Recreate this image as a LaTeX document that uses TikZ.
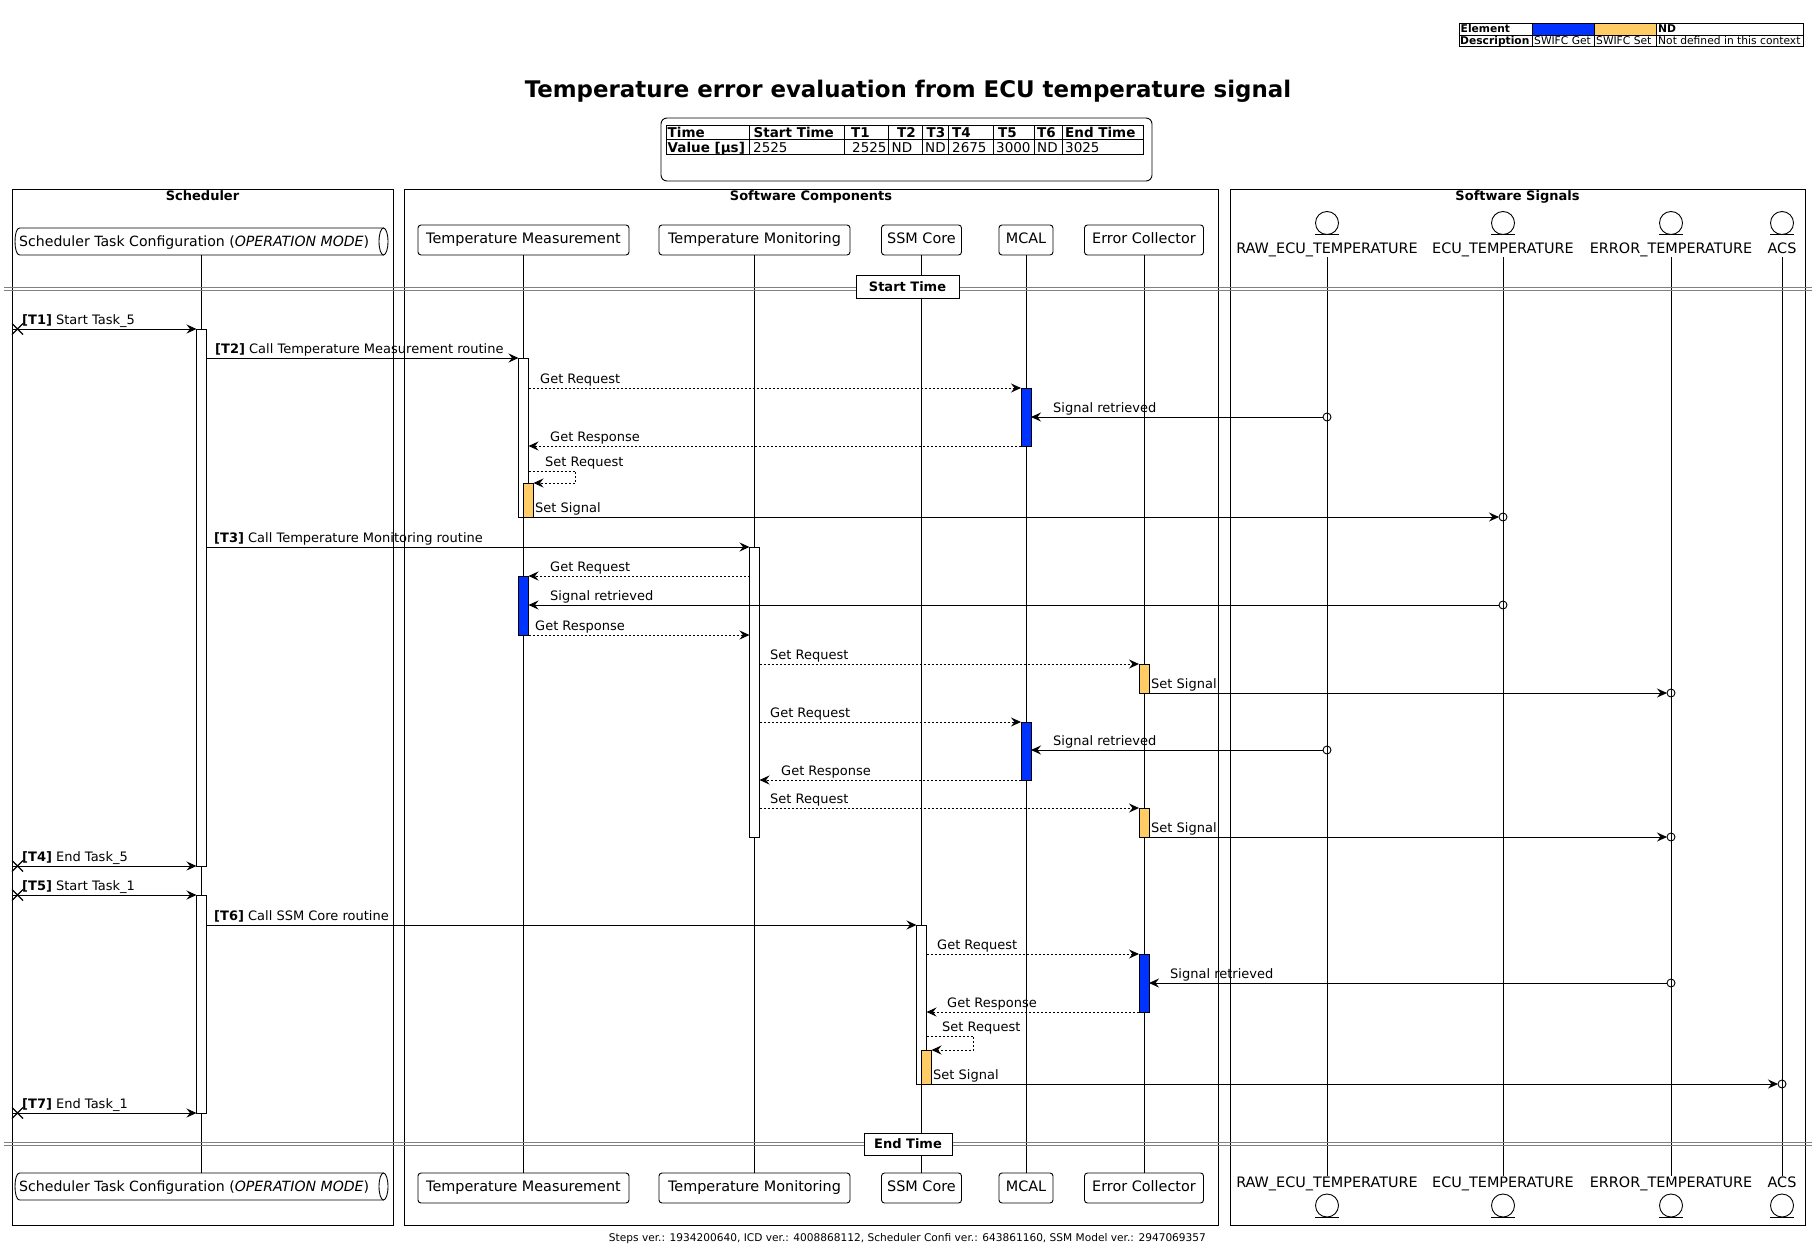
\documentclass[tikz,border=0pt]{standalone}
\usepackage{fontspec}
\setmainfont{DejaVu Sans}
\usetikzlibrary{arrows.meta,calc,shapes.misc}
\definecolor{getblue}{RGB}{0,51,255}
\definecolor{setorange}{RGB}{255,204,102}
\definecolor{divgray}{RGB}{128,128,128}
\newcommand{\fs}[1]{\fontsize{#1}{#1}\selectfont}
\newcommand{\actbox}[5]{\node[act, fill=#5, minimum height={#4-#3}] (#1) at (#2,#3) {};}
\tikzset{
  frame/.style={draw, line width=1pt},
  frametitle/.style={font=\fs{13}\bfseries, anchor=base, inner sep=0pt},
  partbox/.style={draw, fill=white, rounded corners=3pt, minimum height=30pt, inner sep=0pt, font=\fs{14.4}, text height=10.5pt, text depth=3pt, line width=0.9pt},
  qtext/.style={minimum height=27pt, inner sep=0pt, outer sep=0pt},
  entcircle/.style={draw, circle, minimum size=23pt, inner sep=0pt, outer sep=0pt, line width=0.9pt},
  entlabel/.style={font=\fs{14.4}, anchor=base, inner sep=1pt, text height=10pt, text depth=3pt},
  lifeline/.style={line width=0.9pt},
  act/.style={draw, line width=0.9pt, minimum width=10pt, inner sep=0pt, outer sep=0pt, anchor=north},
  msgline/.style={line width=0.9pt, -{Stealth[length=10pt,width=9pt,inset=3.5pt]}},
  reqline/.style={msgline, dash pattern=on 2pt off 2pt},
  lbl/.style={font=\fs{13}, anchor=base west, inner sep=0pt},
  sigdot/.style={draw, circle, minimum size=8pt, inner sep=0pt, outer sep=0pt, line width=0.9pt},
  xmark/.style={draw, cross out, minimum size=11pt, inner sep=0pt, outer sep=0pt, line width=1.2pt},
  divline/.style={draw=divgray, line width=0.9pt},
  divbox/.style={draw, fill=white, line width=0.9pt, font=\fs{13}\bfseries, inner sep=0pt, minimum height=23pt},
  gridline/.style={line width=1pt},
  cell/.style={font=\fs{13.5}, anchor=base west, inner sep=0pt},
  hcell/.style={font=\fs{13.5}\bfseries, anchor=base west, inner sep=0pt},
  lgd/.style={font=\fs{10.7}, anchor=base west, inner sep=0pt},
  lgdb/.style={font=\fs{10.7}\bfseries, anchor=base west, inner sep=0pt},
}
\begin{document}
\begin{tikzpicture}[x=1pt,y=-1pt]
\useasboundingbox (0,0) rectangle (1816,1255);
\fill[white] (0,0) rectangle (1816,1255);

% ---------- legend ----------
\fill[getblue] (1532,23) rectangle (1594,35);
\fill[setorange] (1594,23) rectangle (1656,35);
\draw[line width=0.9pt] (1459,23) rectangle (1803,46);
\draw[line width=0.9pt] (1459,35) -- (1803,35) (1532,23) -- (1532,46) (1594,23) -- (1594,46) (1656,23) -- (1656,46);
\node[lgdb] (lg1) at (1460.5,33) {Element};
\node[lgdb] (lg2) at (1658,33) {ND};
\node[lgdb] (lg3) at (1460,44.2) {Description};
\node[lgd] (lg4) at (1534,44.2) {SWIFC Get};
\node[lgd] (lg5) at (1596,44.2) {SWIFC Set};
\node[lgd] (lg6) at (1658,44.2) {Not defined in this context};

% ---------- title ----------
\node[font=\fs{22.9}\bfseries, anchor=base, inner sep=0pt] (title) at (908,97) {Temperature error evaluation from ECU temperature signal};

% ---------- time table ----------
\draw[line width=0.9pt, rounded corners=6pt] (661,118) rectangle (1152,181);
\draw[gridline] (666,125) rectangle (1143,154);
\draw[gridline] (666,139) -- (1143,139);
\foreach \cx in {749,844,888,922,948,993,1034,1062} {\draw[gridline] (\cx,125) -- (\cx,154);}
\node[hcell] (h1) at (667.5,137.5) {Time};
\node[hcell] (h2) at (753.5,137.5) {Start Time};
\node[hcell] (h3) at (851,137.5) {T1};
\node[hcell] (h4) at (897,137.5) {T2};
\node[hcell] (h5) at (926.5,137.5) {T3};
\node[hcell] (h6) at (952,137.5) {T4};
\node[hcell] (h7) at (998,137.5) {T5};
\node[hcell] (h8) at (1037,137.5) {T6};
\node[hcell] (h9) at (1065,137.5) {End Time};
\node[hcell] (v1) at (667.5,152.5) {Value [µs]};
\node[cell] (v2) at (753,152.5) {2525};
\node[cell] (v3) at (852,152.5) {2525};
\node[cell] (v4) at (891.5,152.5) {ND};
\node[cell] (v5) at (925,152.5) {ND};
\node[cell] (v6) at (952,152.5) {2675};
\node[cell] (v7) at (996,152.5) {3000};
\node[cell] (v8) at (1037,152.5) {ND};
\node[cell] (v9) at (1065,152.5) {3025};

% ---------- frames ----------
\draw[frame] (12,189) rectangle (393,1225);
\draw[frame] (404,189) rectangle (1218,1225);
\draw[frame] (1230,189) rectangle (1805,1225);
\node[frametitle] (ft1) at (202.5,200.5) {Scheduler};
\node[frametitle] (ft2) at (811,200.5) {Software Components};
\node[frametitle] (ft3) at (1517.5,200.5) {Software Signals};

% ---------- participants (top / bottom) ----------
\node[qtext, minimum width=373pt] (pSch) at (201.5,241.5) {};
\node[qtext, minimum width=373pt] (bSch) at (201.5,1186.5) {};
\node[partbox, minimum width=211pt] (pTM) at (523.5,240) {Temperature Measurement};
\node[partbox, minimum width=191pt] (pTMon) at (754.5,240) {Temperature Monitoring};
\node[partbox, minimum width=80pt] (pSSM) at (921.5,240) {SSM Core};
\node[partbox, minimum width=54pt] (pMC) at (1026,240) {MCAL};
\node[partbox, minimum width=119pt] (pEC) at (1144,240) {Error Collector};
\node[partbox, minimum width=211pt] (bTM) at (523.5,1188) {Temperature Measurement};
\node[partbox, minimum width=191pt] (bTMon) at (754.5,1188) {Temperature Monitoring};
\node[partbox, minimum width=80pt] (bSSM) at (921.5,1188) {SSM Core};
\node[partbox, minimum width=54pt] (bMC) at (1026,1188) {MCAL};
\node[partbox, minimum width=119pt] (bEC) at (1144,1188) {Error Collector};

% entities
\foreach \nm/\ex/\txt in {RAW/1327/RAW\_ECU\_TEMPERATURE, ECU/1503/ECU\_TEMPERATURE, ERR/1671/ERROR\_TEMPERATURE, ACS/1782/ACS} {
  \node[entcircle] (e\nm) at (\ex,223) {};
  \draw[line width=0.9pt] ($(e\nm.south)+(-12,0)$) -- ($(e\nm.south)+(12,0)$);
  \node[entlabel] (l\nm) at (\ex,253) {\txt};
  \node[entlabel] (bl\nm) at (\ex,1187) {\txt};
  \node[entcircle] (be\nm) at (\ex,1205.5) {};
  \draw[line width=0.9pt] ($(be\nm.south)+(-12,0)$) -- ($(be\nm.south)+(12,0)$);
}

% ---------- lifelines ----------
\draw[lifeline] (pSch.south) -- (bSch.north);
\foreach \p in {TM,TMon,SSM,MC,EC} {\draw[lifeline] (p\p.south) -- (b\p.north);}
\foreach \p in {RAW,ECU,ERR,ACS} {\draw[lifeline] (l\p.south) -- (bl\p.north);}

% queue shapes for scheduler
\foreach \q in {pSch,bSch} {
  \fill[white] ($(\q.north west)+(4.5,0)$) rectangle ($(\q.south east)+(-4.5,0)$);
  \draw[line width=0.9pt] ($(\q.north east)+(-4.5,0)$) -- ($(\q.north west)+(4.5,0)$)
     .. controls ($(\q.north west)+(-1.5,0)$) and ($(\q.south west)+(-1.5,0)$) .. ($(\q.south west)+(4.5,0)$)
     -- ($(\q.south east)+(-4.5,0)$);
  \draw[line width=0.9pt, fill=white] ($(\q.east)+(-4.5,0)$) ellipse [x radius=4.5, y radius=13.5];
}
\node[font=\fs{14.1}, inner sep=0pt, anchor=base west] (tSch) at (19,246.5) {Scheduler Task Configuration (\textit{OPERATION MODE})};
\node[font=\fs{14.1}, inner sep=0pt, anchor=base west] (tbSch) at (19,1191.5) {Scheduler Task Configuration (\textit{OPERATION MODE})};

% ---------- dividers ----------
\draw[divline] (4,287.5) -- (1812,287.5) (4,290.5) -- (1812,290.5);
\node[divbox, minimum width=103pt] (dStart) at (907.5,286.5) {Start Time};
\draw[divline] (4,1142) -- (1812,1142) (4,1145) -- (1812,1145);
\node[divbox, minimum width=88pt, minimum height=22pt] (dEnd) at (908,1144) {End Time};

% ---------- activations ----------
\actbox{sch1}{201.5}{329}{866}{white}
\actbox{sch2}{201.5}{895}{1113}{white}
\actbox{tm1}{523.5}{358}{517}{white}
\actbox{tmo1}{528.5}{483}{517}{setorange}
\actbox{mc1}{1026}{388}{446}{getblue}
\actbox{tmon1}{754.5}{547}{837}{white}
\actbox{tmb}{523.5}{576}{635}{getblue}
\actbox{eco1}{1144}{664}{693}{setorange}
\actbox{mc2}{1026}{722}{780}{getblue}
\actbox{eco2}{1144}{808}{837}{setorange}
\actbox{ssm1}{921.5}{925}{1084}{white}
\actbox{ecb}{1144}{954}{1012}{getblue}
\actbox{ssmo}{926.5}{1050}{1084}{setorange}

% ---------- signal end points ----------
\node[sigdot] (s4) at (1327,417) {};
\node[sigdot] (s7) at (1503,517) {};
\node[sigdot] (s10) at (1503,605) {};
\node[sigdot] (s13) at (1671,693) {};
\node[sigdot] (s15) at (1327,750) {};
\node[sigdot] (s18) at (1671,837) {};
\node[sigdot] (s23) at (1671,983) {};
\node[sigdot] (s26) at (1782,1084) {};

% crosses
\node[xmark] (x1) at (17.5,329) {};
\node[xmark] (x19) at (17.5,866) {};
\node[xmark] (x20) at (17.5,895) {};
\node[xmark] (x27) at (17.5,1113) {};

% row coordinates
\coordinate (r2) at (0,358);
\coordinate (r3) at (0,388);
\coordinate (r5) at (0,446);
\coordinate (r6) at (0,471);
\coordinate (r8) at (0,547);
\coordinate (r9) at (0,576);
\coordinate (r11) at (0,635);
\coordinate (r12) at (0,664);
\coordinate (r14) at (0,722);
\coordinate (r16) at (0,780);
\coordinate (r17) at (0,808);
\coordinate (r21) at (0,925);
\coordinate (r22) at (0,954);
\coordinate (r24) at (0,1012);
\coordinate (r25) at (0,1036);

% ---------- messages ----------
\draw[msgline] (x1.west) -- (sch1.west |- x1);
\node[lbl] (m1) at (22,324) {\textbf{[T1]} Start Task\_5};
\draw[msgline] (sch1.east |- r2) -- (tm1.west |- r2);
\node[lbl] (m2) at (215,353) {\textbf{[T2]} Call Temperature Measurement routine};
\draw[reqline] (tm1.east |- r3) -- (mc1.west |- r3);
\node[lbl] (m3) at (540,383) {Get Request};
\draw[msgline] (s4.west) -- (mc1.east |- s4);
\node[lbl] (m4) at (1053,412) {Signal retrieved};
\draw[reqline] (mc1.west |- r5) -- (tm1.east |- r5);
\node[lbl] (m5) at (550,441) {Get Response};
\draw[reqline] (tm1.east |- r6) -- ++(47,0) |- (tmo1.north east);
\node[lbl] (m6) at (545,466.5) {Set Request};
\draw[msgline] (tmo1.south east) -- (s7.west);
\node[lbl] (m7) at (535,512) {Set Signal};
\draw[msgline] (sch1.east |- r8) -- (tmon1.west |- r8);
\node[lbl] (m8) at (214,542) {\textbf{[T3]} Call Temperature Monitoring routine};
\draw[reqline] (tmon1.west |- r9) -- (tmb.east |- r9);
\node[lbl] (m9) at (550,571) {Get Request};
\draw[msgline] (s10.west) -- (tmb.east |- s10);
\node[lbl] (m10) at (550,600) {Signal retrieved};
\draw[reqline] (tmb.east |- r11) -- (tmon1.west |- r11);
\node[lbl] (m11) at (535,630) {Get Response};
\draw[reqline] (tmon1.east |- r12) -- (eco1.west |- r12);
\node[lbl] (m12) at (770,659) {Set Request};
\draw[msgline] (eco1.south east) -- (s13.west);
\node[lbl] (m13) at (1151,688) {Set Signal};
\draw[reqline] (tmon1.east |- r14) -- (mc2.west |- r14);
\node[lbl] (m14) at (770,717) {Get Request};
\draw[msgline] (s15.west) -- (mc2.east |- s15);
\node[lbl] (m15) at (1053,745) {Signal retrieved};
\draw[reqline] (mc2.west |- r16) -- (tmon1.east |- r16);
\node[lbl] (m16) at (781,775) {Get Response};
\draw[reqline] (tmon1.east |- r17) -- (eco2.west |- r17);
\node[lbl] (m17) at (770,803) {Set Request};
\draw[msgline] (eco2.south east) -- (s18.west);
\node[lbl] (m18) at (1151,832) {Set Signal};
\draw[msgline] (x19.west) -- (sch1.west |- x19);
\node[lbl] (m19) at (22,861) {\textbf{[T4]} End Task\_5};
\draw[msgline] (x20.west) -- (sch2.west |- x20);
\node[lbl] (m20) at (22,890) {\textbf{[T5]} Start Task\_1};
\draw[msgline] (sch2.east |- r21) -- (ssm1.west |- r21);
\node[lbl] (m21) at (214,920) {\textbf{[T6]} Call SSM Core routine};
\draw[reqline] (ssm1.east |- r22) -- (ecb.west |- r22);
\node[lbl] (m22) at (937,949) {Get Request};
\draw[msgline] (s23.west) -- (ecb.east |- s23);
\node[lbl] (m23) at (1170,978) {Signal retrieved};
\draw[reqline] (ecb.west |- r24) -- (ssm1.east |- r24);
\node[lbl] (m24) at (947,1007) {Get Response};
\draw[reqline] (ssm1.east |- r25) -- ++(47,0) |- (ssmo.north east);
\node[lbl] (m25) at (942,1031.5) {Set Request};
\draw[msgline] (ssmo.south east) -- (s26.west);
\node[lbl] (m26) at (933,1079) {Set Signal};
\draw[msgline] (x27.west) -- (sch2.west |- x27);
\node[lbl] (m27) at (22,1108) {\textbf{[T7]} End Task\_1};

% ---------- footer ----------
\node[font=\fs{10.6}, anchor=base, inner sep=0pt] (footer) at (907.5,1241) {Steps ver.: 1934200640, ICD ver.: 4008868112, Scheduler Confi ver.: 643861160, SSM Model ver.: 2947069357};
\end{tikzpicture}
\end{document}
